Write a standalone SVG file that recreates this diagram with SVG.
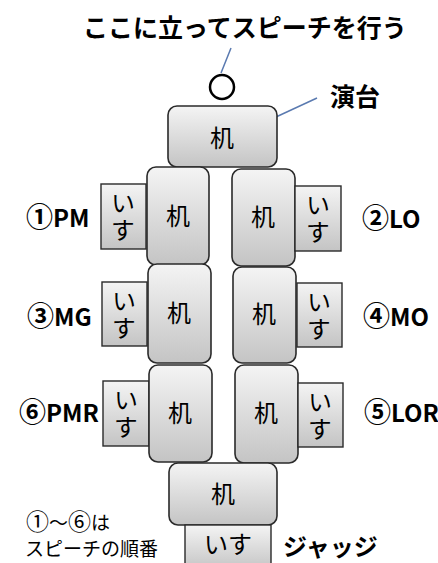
<svg xmlns="http://www.w3.org/2000/svg" width="438" height="563" viewBox="0 0 438 563">
<defs>
<linearGradient id="g" x1="0" y1="0" x2="0" y2="1">
<stop offset="0" stop-color="#f4f4f4"/>
<stop offset="1" stop-color="#c4c4c4"/>
</linearGradient>
<style>
.desk{fill:url(#g);stroke:#2a2a2a;stroke-width:1.6}
.chair{fill:url(#g);stroke:#2a2a2a;stroke-width:1.4}
.t{font-family:"Noto Sans CJK JP","Noto Sans",sans-serif;fill:#000}
.c{font-size:24px;text-anchor:middle}
.v{font-size:24px;text-anchor:middle;writing-mode:vertical-rl;letter-spacing:3px}
.b{font-size:24px;font-weight:bold}
.n{font-size:27px;font-weight:bold}
.s{font-size:19px}
.sn{font-size:23px}
.ln{stroke:#5a7ab0;stroke-width:1.5;fill:none}
</style>
</defs>
<rect width="438" height="563" fill="#fff"/>
<g id="title"><text class="t b" x="245" y="37" text-anchor="middle" style="font-size:25px">ここに立ってスピーチを行う</text></g>
<g id="connectors">
<line class="ln" x1="231" y1="48" x2="221" y2="73"/>
<line class="ln" x1="317" y1="98" x2="263" y2="123"/>
</g>
<g id="speaker"><circle cx="222" cy="87" r="12" fill="#fff" stroke="#000" stroke-width="2.5"/></g>
<g id="podium-label"><text class="t b" x="330" y="106" style="font-size:25px">演台</text></g>
<g id="podium"><rect class="desk" x="168" y="106" width="109" height="61" rx="9"/><text class="t c" x="222" y="147">机</text></g>

<g id="pm">
<rect class="chair" x="101" y="184" width="45" height="65"/>
<text class="t v" x="123" y="218">いす</text>
<rect class="desk" x="147" y="167" width="62" height="98" rx="9"/><text class="t c" x="178" y="225">机</text>
<text class="t b" x="26" y="227"><tspan class="n">①</tspan>PM</text>
</g>
<g id="lo">
<rect class="desk" x="232" y="169" width="63" height="97" rx="9"/><text class="t c" x="263" y="226">机</text>
<rect class="chair" x="295" y="186" width="46" height="65"/>
<text class="t v" x="318" y="220">いす</text>
<text class="t b" x="362" y="228"><tspan class="n">②</tspan>LO</text>
</g>
<g id="mg">
<rect class="chair" x="102" y="282" width="45" height="64"/>
<text class="t v" x="124" y="316">いす</text>
<rect class="desk" x="148" y="264" width="63" height="99" rx="9"/><text class="t c" x="179" y="322">机</text>
<text class="t b" x="27" y="326"><tspan class="n">③</tspan>MG</text>
</g>
<g id="mo">
<rect class="desk" x="233" y="267" width="63" height="96" rx="9"/><text class="t c" x="264" y="323">机</text>
<rect class="chair" x="297" y="283" width="45" height="64"/>
<text class="t v" x="319" y="317">いす</text>
<text class="t b" x="363" y="326"><tspan class="n">④</tspan>MO</text>
</g>
<g id="pmr">
<rect class="chair" x="103" y="381" width="46" height="65"/>
<text class="t v" x="126" y="415">いす</text>
<rect class="desk" x="149" y="365" width="63" height="97" rx="9"/><text class="t c" x="180" y="422">机</text>
<text class="t b" x="19" y="422"><tspan class="n">⑥</tspan>PMR</text>
</g>
<g id="lor">
<rect class="desk" x="235" y="365" width="63" height="98" rx="9"/><text class="t c" x="266" y="422">机</text>
<rect class="chair" x="298" y="383" width="45" height="64"/>
<text class="t v" x="320" y="417">いす</text>
<text class="t b" x="364" y="422"><tspan class="n">⑤</tspan>LOR</text>
</g>
<g id="judge">
<rect class="desk" x="169" y="463" width="108" height="62" rx="9"/><text class="t c" x="223" y="503">机</text>
<rect class="chair" x="185" y="525" width="86" height="45"/>
<text class="t c" x="228" y="553">いす</text>
<text class="t b" x="283" y="556">ジャッジ</text>
</g>
<g id="note">
<text class="t s" x="26" y="530"><tspan class="sn">①</tspan>〜<tspan class="sn">⑥</tspan>は</text>
<text class="t s" x="25" y="556">スピーチの順番</text>
</g>
</svg>
